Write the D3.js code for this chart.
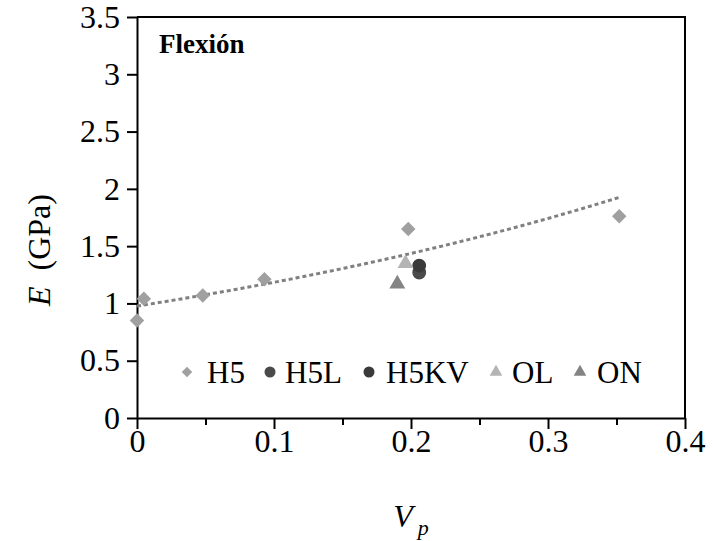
<!DOCTYPE html>
<html>
<head>
<meta charset="utf-8">
<script src="https://cdn.jsdelivr.net/npm/d3@7"></script>
<style>
  body { margin: 0; background: #fff; }
  text { font-family: "Liberation Serif", "Times New Roman", serif; }
</style>
</head>
<body>
<div id="chart"></div>
<script>
// data (Vp, E in GPa)
var h5X = [0, 0.005, 0.048, 0.093, 0.198, 0.352];
var h5Y = [0.85, 1.04, 1.07, 1.21, 1.65, 1.76];
var h5lX = [0.206];
var h5lY = [1.27];
var h5kvX = [0.206];
var h5kvY = [1.33];
var olX = [0.196];
var olY = [1.35];
var onX = [0.190];
var onY = [1.17];

var xTicks = [0, 0.1, 0.2, 0.3, 0.4];
var xMinor = [0.05, 0.15, 0.25, 0.35];
var yTicks = [0, 0.5, 1, 1.5, 2, 2.5, 3, 3.5];

var width = 713, height = 541;
var margin = {left: 137, right: 28, top: 17, bottom: 123};

var svg = d3.select("#chart").append("svg")
    .attr("width", width)
    .attr("height", height);

var x = d3.scaleLinear().domain([0, 0.4]).range([margin.left, width - margin.right]);
var y = d3.scaleLinear().domain([0, 3.5]).range([height - margin.bottom, margin.top]);

//frame top and right
svg.append("path")
    .attr("d", "M" + x(0) + "," + y(3.5) + "H" + x(0.4) + "V" + y(0))
    .attr("fill", "none")
    .attr("stroke", "#000")
    .attr("stroke-width", 2);

//axes
svg.append("g")
    .attr("transform", "translate(0," + y(0) + ")")
    .call(d3.axisBottom(x).tickValues(xTicks).tickFormat(d3.format("")).tickSize(11).tickSizeOuter(0).tickPadding(0));
svg.append("g")
    .attr("transform", "translate(0," + y(0) + ")")
    .call(d3.axisBottom(x).tickValues(xMinor).tickFormat("").tickSize(7))
    .select(".domain").remove();
svg.append("g")
    .attr("transform", "translate(" + x(0) + ",0)")
    .call(d3.axisLeft(y).tickValues(yTicks).tickFormat(d3.format("")).tickSize(10).tickSizeOuter(0).tickPadding(7));

svg.selectAll(".domain").attr("stroke-width", 2);
svg.selectAll(".tick line").attr("stroke-width", 2);
svg.selectAll(".tick text").attr("font-size", 32).attr("fill", "#000")
    .style("font-family", "Liberation Serif");

//exponential trend fitted to the H5 series
var lnY = h5Y.map(Math.log);
var mx = d3.mean(h5X), my = d3.mean(lnY);
var sxy = d3.sum(h5X, function(v, i) { return (v - mx) * (lnY[i] - my); });
var sxx = d3.sum(h5X, function(v) { return (v - mx) * (v - mx); });
var b = sxy / sxx, a = Math.exp(my - b * mx);
var trend = d3.range(0, d3.max(h5X) + 0.0001, 0.004).map(function(v) { return [v, a * Math.exp(b * v)]; });

svg.append("path")
    .datum(trend)
    .attr("d", d3.line().x(function(d) { return x(d[0]); }).y(function(d) { return y(d[1]); }))
    .attr("fill", "none")
    .attr("stroke", "#808080")
    .attr("stroke-width", 3)
    .attr("stroke-dasharray", "4,3");

//series
var series = [
  {name: "H5", xs: h5X, ys: h5Y, shape: d3.symbolSquare, rot: 45, color: "#a0a0a0", size: 105, lsize: 55, lx: 187, tx: 207},
  {name: "H5L", xs: h5lX, ys: h5lY, shape: d3.symbolCircle, rot: 0, color: "#4a4a4a", size: 150, lsize: 95, lx: 270, tx: 285},
  {name: "H5KV", xs: h5kvX, ys: h5kvY, shape: d3.symbolCircle, rot: 0, color: "#3a3a3a", size: 150, lsize: 95, lx: 369, tx: 386},
  {name: "OL", xs: olX, ys: olY, shape: d3.symbolTriangle, rot: 0, color: "#b4b4b4", size: 110, lsize: 70, lx: 496, tx: 512},
  {name: "ON", xs: onX, ys: onY, shape: d3.symbolTriangle, rot: 0, color: "#848484", size: 110, lsize: 70, lx: 580, tx: 597}
];

series.forEach(function(s) {
  var pts = s.xs.map(function(v, i) { return [v, s.ys[i]]; });
  svg.append("g").selectAll("path")
      .data(pts)
      .enter().append("path")
      .attr("transform", function(d) { return "translate(" + x(d[0]) + "," + y(d[1]) + ") rotate(" + s.rot + ")"; })
      .attr("d", d3.symbol().type(s.shape).size(s.size))
      .attr("fill", s.color);
});

//legend
var legY = 372;
series.forEach(function(s) {
  svg.append("path")
      .attr("transform", "translate(" + s.lx + "," + legY + ") rotate(" + s.rot + ")")
      .attr("d", d3.symbol().type(s.shape).size(s.lsize))
      .attr("fill", s.color);
  svg.append("text")
      .attr("x", s.tx)
      .attr("y", legY + 11)
      .attr("font-size", 31)
      .text(s.name);
});

//labels
svg.append("text")
    .attr("x", 159)
    .attr("y", 53)
    .attr("font-size", 27)
    .attr("font-weight", "bold")
    .text("Flexión");

var yl = svg.append("text")
    .attr("transform", "translate(50,250) rotate(-90)")
    .attr("text-anchor", "middle")
    .attr("font-size", 32);
yl.append("tspan").attr("font-style", "italic").text("E");
yl.append("tspan").text("\u00a0 (GPa)");

var xl = svg.append("text")
    .attr("x", 411)
    .attr("y", 527)
    .attr("text-anchor", "middle")
    .attr("font-size", 32);
xl.append("tspan").attr("font-style", "italic").text("V");
xl.append("tspan").attr("font-style", "italic").attr("font-size", 22).attr("dx", 5).attr("dy", 8).text("p");
</script>
</body>
</html>
